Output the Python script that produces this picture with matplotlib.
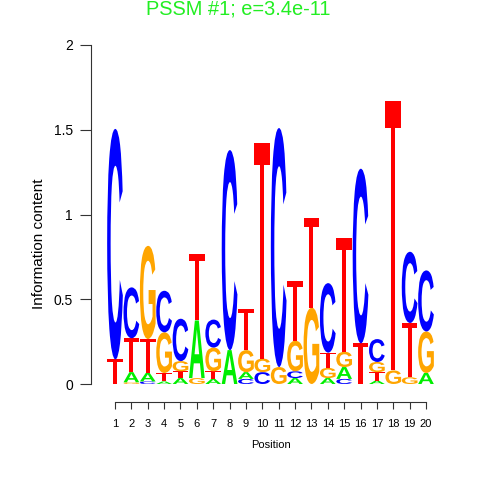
import matplotlib
matplotlib.use('Agg')
import matplotlib.pyplot as plt
from matplotlib.textpath import TextPath
from matplotlib.patches import PathPatch, Polygon
from matplotlib.font_manager import FontProperties
from matplotlib.transforms import Affine2D

# ---- data: information content per base at each position ----
positions = list(range(1, 21))
A = [0.000, 0.060, 0.050, 0.015, 0.035, 0.340, 0.030, 0.200, 0.040, 0.000,
     0.000, 0.035, 0.000, 0.035, 0.070, 0.000, 0.020, 0.000, 0.000, 0.065]
C = [1.360, 0.300, 0.015, 0.245, 0.250, 0.000, 0.165, 1.180, 0.030, 0.070,
     1.410, 0.040, 0.000, 0.410, 0.030, 1.030, 0.135, 0.000, 0.420, 0.360]
G = [0.000, 0.010, 0.550, 0.240, 0.060, 0.035, 0.140, 0.000, 0.130, 0.080,
     0.100, 0.180, 0.450, 0.060, 0.090, 0.000, 0.060, 0.080, 0.040, 0.245]
T = [0.145, 0.200, 0.200, 0.050, 0.040, 0.390, 0.045, 0.000, 0.240, 1.270,
     0.000, 0.350, 0.530, 0.090, 0.670, 0.240, 0.050, 1.590, 0.320, 0.000]
y_ticks = [0, 0.5, 1, 1.5, 2]
y_ticklabels = ["0", "0.5", "1", "1.5", "2"]
title = "PSSM #1; e=3.4e-11"

colors = {'A': '#00EE00', 'C': '#0000FF', 'G': '#FFA500', 'T': '#FF0000'}

W, H = 480, 480
fig = plt.figure(figsize=(4.8, 4.8), dpi=100)

# axes geometry (pixels)
px_per_unit = (426 - 115) / 19.0
x_left_px, x_right_px = 91, 436
xlim0 = 1 - (115 - x_left_px) / px_per_unit
xlim1 = 1 + (x_right_px - 115) / px_per_unit
ax_bottom_px, ax_top_px = 384, 45
ax = fig.add_axes([x_left_px / W, (H - ax_bottom_px) / H,
                   (x_right_px - x_left_px) / W, (ax_bottom_px - ax_top_px) / H])
ax.set_xlim(xlim0, xlim1)
ax.set_ylim(0, 2)

fp = FontProperties(family='Liberation Sans', weight='bold')


def draw_letter(ch, x, y, h, w=0.96):
    if ch == 'T':
        bar, stem = 0.10, 0.26
        x0, x1 = x - w / 2, x + w / 2
        s0, s1 = x - w * stem / 2, x + w * stem / 2
        ytop, ybar = y + h, y + h * (1 - bar)
        pts = [(x0, ytop), (x1, ytop), (x1, ybar), (s1, ybar), (s1, y),
               (s0, y), (s0, ybar), (x0, ybar)]
        ax.add_patch(Polygon(pts, closed=True, facecolor=colors[ch],
                             edgecolor='none', lw=0))
        return
    tp = TextPath((0, 0), ch, size=1, prop=fp)
    bb = tp.get_extents()
    tr = (Affine2D().translate(-bb.x0, -bb.y0)
          .scale(w / bb.width, h / bb.height)
          .translate(x - w / 2, y))
    path = tr.transform_path(tp)
    ax.add_patch(PathPatch(path, facecolor=colors[ch], edgecolor='none', lw=0))


for i, p in enumerate(positions):
    items = [('A', A[i]), ('C', C[i]), ('G', G[i]), ('T', T[i])]
    items = sorted(items, key=lambda t: t[1])
    y = 0.0
    for ch, h in items:
        if h > 0:
            draw_letter(ch, p, y, h)
            y += h

# spines
for s in ['top', 'right']:
    ax.spines[s].set_visible(False)
ax.spines['left'].set_bounds(0, 2)
ax.spines['bottom'].set_bounds(1, 20)
ax.spines['bottom'].set_position(('outward', 18 * 0.72))
for s in ['left', 'bottom']:
    ax.spines[s].set_linewidth(0.8)
    ax.spines[s].set_color('#333333')

ax.set_yticks(y_ticks)
ax.set_yticklabels(y_ticklabels, fontsize=10, family='Liberation Sans')
ax.set_xticks(positions)
ax.set_xticklabels([str(p) for p in positions], fontsize=8, family='Liberation Sans')
ax.tick_params(axis='y', length=11 * 0.72, width=0.8, pad=5, color='#333333')
ax.tick_params(axis='x', length=7 * 0.72, width=0.8, pad=7, color='#333333')

fig.text(271 / W, 1 - 445 / H, "Position", ha='center', va='center',
         fontsize=8, family='Liberation Sans')
fig.text(39 / W, 1 - 244 / H, "Information content", ha='center', va='center',
         rotation=90, fontsize=11, family='Liberation Sans')
fig.text(238.5 / W, 1 - 9 / H, title, ha='center', va='center',
         fontsize=14.4, family='Liberation Sans', color='#22EE22')

fig.savefig('out.png', dpi=100)
